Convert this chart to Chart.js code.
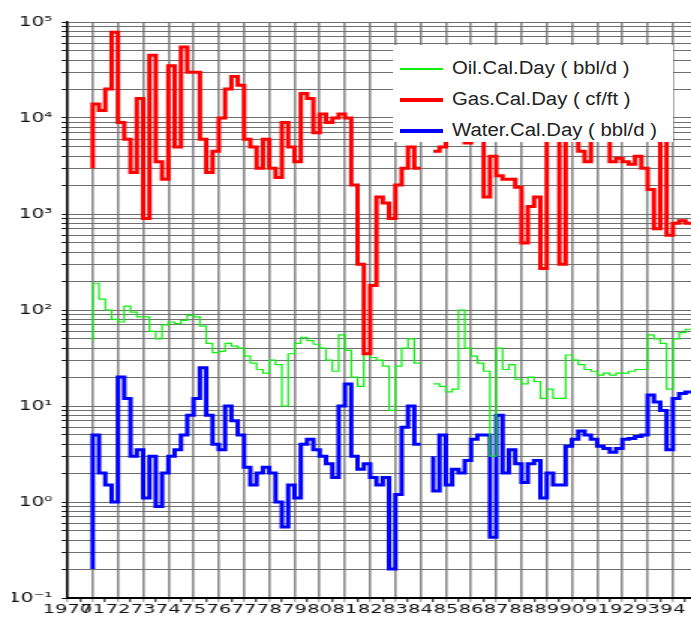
<!DOCTYPE html>
<html>
<head>
<meta charset="utf-8">
<script src="https://cdn.jsdelivr.net/npm/chart.js@4.4.0/dist/chart.umd.min.js"></script>
<style>
	html, body { margin: 0; padding: 0; background: #fff; }
	#wrap { position: relative; width: 691px; height: 620px; overflow: hidden; }
	#chart { position: absolute; left: 0; top: 0; }
	#legend {
		position: absolute; left: 393px; top: 45px; width: 280px; height: 97px;
		background: #fff; box-sizing: border-box; padding-top: 8px;
	}
</style>
</head>
<body>
<div id="wrap">
	<canvas id="chart" width="461" height="620" style="width:691px;height:620px"></canvas>
	<div id="legend"></div>
</div>
<script>
// one value per quarter, from 1971.0; each value holds for the quarter ending at its date
const firstDate = 1971;

const oilRate = [48,
	190, 130, 100, 80,
	75, 110, 95, 85,
	85, 60, 50, 70,
	75, 72, 78, 88,
	85, 68, 45, 36,
	37, 45, 42, 40,
	33, 28, 24, 22,
	30, 27, 10, 35,
	45, 52, 48, 44,
	40, 30, 23, 55,
	38, 20, 16, 35,
	32, 30, 26, 9,
	26, 40, 50, 28,
	null, 17, 17, 16,
	14, 15, 100, 40,
	33, 28, 23, 3,
	40, 24, 27, 19,
	17, 20, 18, 12,
	15, 12, 12, 34,
	30, 27, 24, 23,
	21, 22, 21, 22,
	22, 23, 24, 24,
	55, 50, 45, 15,
	50, 58, 63, 65];

const gasRate = [3000,
	14000, 12000, 20000, 78000,
	9000, 6000, 2700, 16000,
	900, 45000, 3500, 2300,
	35000, 5000, 55000, 30000,
	30000, 6000, 2700, 4500,
	10000, 20000, 27000, 22000,
	6000, 5000, 3000, 6000,
	3000, 2400, 9000, 5000,
	3500, 18000, 16000, 7000,
	11000, 9000, 10000, 11000,
	10000, 2000, 300, 35,
	180, 1500, 1300, 900,
	2000, 3000, 5000, 3000,
	null, 4500, 4500, 5000,
	8000, 8000, 9000, 5500,
	7000, 8000, 1500, 4000,
	2500, 2300, 2300, 1900,
	500, 1200, 1500, 270,
	7000, 6000, 300, 6000,
	7000, 4500, 3500, 6000,
	6000, 6000, 3500, 3800,
	3500, 3300, 4000, 3000,
	1800, 700, 9000, 600,
	800, 850, 800, 800];

const waterRate = [0.2,
	5, 2, 1.5, 1.0,
	20, 12, 3, 3.5,
	1.1, 3, 0.9, 2,
	3, 3.5, 5, 8,
	12, 25, 8, 4,
	3.5, 10, 7, 5,
	2.3, 1.5, 2, 2.3,
	2, 1, 0.55, 1.5,
	1.1, 4, 4.5, 3.5,
	3, 2.5, 1.8, 10,
	17, 3, 2.2, 2.5,
	1.8, 1.5, 1.8, 0.2,
	1.2, 6, 10, 4,
	null, 3, 1.3, 5,
	1.5, 2.2, 2, 2.7,
	4.5, 5, 5, 0.43,
	8, 2, 3.5, 2.5,
	1.6, 2.5, 2.7, 1.1,
	2, 1.5, 1.5, 3.8,
	4.5, 5.5, 5, 4.5,
	3.8, 3.6, 3.3, 3.6,
	4.5, 4.6, 4.8, 5,
	13, 11, 9, 3.5,
	12, 13.5, 14, 14];

const dates = oilRate.map((_, i) => firstDate + i / 4);

const yearLabels = ['1970', '71', '72', '73', '74', '75', '76', '77', '78', '79', '80', '81', '82',
	'83', '84', '85', '86', '87', '88', '89', '90', '91', '92', '93', '94'];
const decades = [0.1, 1, 10, 100, 1000, 10000, 100000];
const decadeLabels = ['10⁻¹', '10⁰', '10¹', '10²', '10³', '10⁴', '10⁵'];

const xMin = 1970;
const xMax = 1994.72;

// a tick every half year, grid line only on whole years
const xTicks = [];
for (let v = xMin; v < xMax; v += 0.5) xTicks.push(v);

const yTicks = [];
decades.forEach(d => {
	if (d === 100000) { yTicks.push(d); return; }
	for (let m = 1; m <= 9; m++) yTicks.push(m * d);
});

const htmlLegendPlugin = {
	id: 'htmlLegend',
	afterUpdate(chart, args, options) {
		const box = document.getElementById(options.containerID);
		while (box.firstChild) box.firstChild.remove();

		chart.data.datasets.forEach(ds => {
			const row = document.createElement('div');
			row.style.display = 'flex';
			row.style.alignItems = 'center';
			row.style.height = '31px';

			const swatch = document.createElement('span');
			swatch.style.display = 'inline-block';
			swatch.style.width = '43px';
			swatch.style.height = ds.legendWidth + 'px';
			swatch.style.background = ds.borderColor;
			swatch.style.marginLeft = '7px';
			swatch.style.marginRight = '9px';
			swatch.style.flexShrink = 0;

			const text = document.createElement('span');
			text.textContent = ds.label;
			text.style.display = 'inline-block';
			text.style.font = '18px "Liberation Sans", Arial, sans-serif';
			text.style.color = '#222';
			text.style.whiteSpace = 'nowrap';
			text.style.transform = 'scaleX(1.13)';
			text.style.transformOrigin = 'left center';

			row.appendChild(swatch);
			row.appendChild(text);
			box.appendChild(row);
		});
	}
};

const series = (label, values, color, width, legendWidth, order) => ({
	label: label,
	order: order,
	legendWidth: legendWidth,
	data: values.map((v, i) => ({x: dates[i], y: v})),
	borderColor: color,
	backgroundColor: color,
	borderWidth: width,
	stepped: 'after',
	pointRadius: 0,
	spanGaps: false,
	fill: false,
	borderJoinStyle: 'miter',
	borderCapStyle: 'butt'
});

new Chart(document.getElementById('chart'), {
	type: 'line',
	data: {
		datasets: [
			series('Oil.Cal.Day ( bbl/d )', oilRate, '#10ee10', 1.2, 2, 1),
			series('Gas.Cal.Day ( cf/ft )', gasRate, '#ff0000', 3, 4, 0),
			series('Water.Cal.Day ( bbl/d )', waterRate, '#0000ff', 3, 4, 2)
		]
	},
	options: {
		responsive: false,
		devicePixelRatio: 1,
		animation: false,
		layout: {padding: {top: 22, right: 0, bottom: 0, left: 8}},
		plugins: {
			legend: {display: false},
			tooltip: {enabled: false},
			htmlLegend: {containerID: 'legend'}
		},
		scales: {
			x: {
				type: 'linear',
				min: xMin,
				max: xMax,
				afterBuildTicks: axis => { axis.ticks = xTicks.map(v => ({value: v})); },
				afterFit: axis => { axis.height = 22; },
				ticks: {
					autoSkip: false,
					maxRotation: 0,
					minRotation: 0,
					padding: 0,
					color: '#111',
					font: {family: 'DejaVu Sans', size: 13},
					callback: v => Number.isInteger(v) ? yearLabels[v - xMin] : ''
				},
				grid: {
					color: ctx => (ctx.tick && Number.isInteger(ctx.tick.value)) ? '#8c8c8c' : 'rgba(0,0,0,0)',
					lineWidth: 1.6,
					tickLength: 4,
					tickWidth: 1,
					tickColor: ctx => (ctx.tick && Number.isInteger(ctx.tick.value)) ? '#8c8c8c' : '#000'
				},
				border: {color: '#000', width: 2}
			},
			y: {
				type: 'logarithmic',
				min: 0.1,
				max: 100000,
				afterBuildTicks: axis => { axis.ticks = yTicks.map(v => ({value: v})); },
				afterFit: axis => { axis.width = 37; },
				ticks: {
					autoSkip: false,
					padding: 6,
					color: '#111',
					font: {family: 'DejaVu Sans', size: 13.5},
					callback: v => {
						const i = decades.indexOf(v);
						return i < 0 ? '' : decadeLabels[i];
					}
				},
				grid: {color: '#707070', lineWidth: 1, tickLength: 4, tickColor: '#222'},
				border: {color: '#000', width: 1.5}
			}
		}
	},
	plugins: [htmlLegendPlugin]
});
</script>
</body>
</html>
